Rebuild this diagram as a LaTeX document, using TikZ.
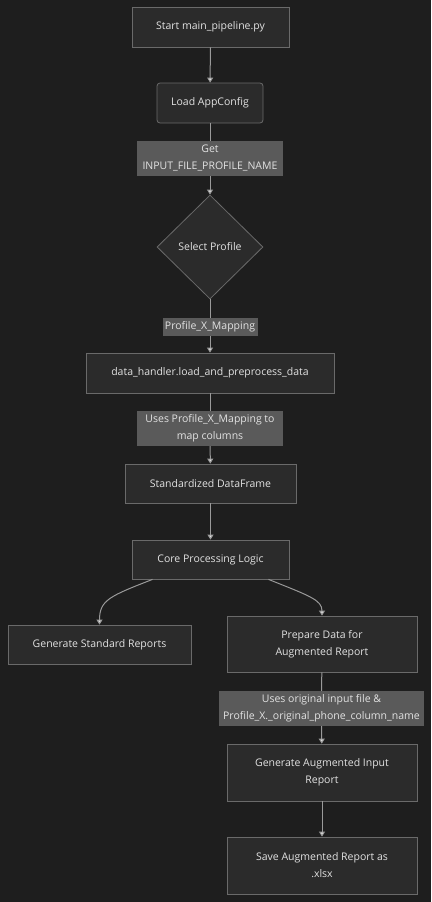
\documentclass[tikz,border=0pt]{standalone}
\usepackage{fontspec}
\setmainfont{Open Sans}
\usetikzlibrary{shapes.geometric, arrows.meta}

\definecolor{bgdark}{HTML}{1E1E1E}
\definecolor{boxfill}{HTML}{2B2B2B}
\definecolor{boxline}{HTML}{6A6A6A}
\definecolor{lblfill}{HTML}{5A5A5A}
\definecolor{textlight}{HTML}{E2E2E2}
\definecolor{flowline}{HTML}{9A9A9A}

\begin{document}
\begin{tikzpicture}[x=1pt, y=1pt,
    procbox/.style={draw=boxline, line width=0.8pt, fill=boxfill, text=textlight,
        font=\fontsize{10.5}{17}\selectfont, align=center, inner sep=0pt},
    edgelbl/.style={fill=lblfill, text=textlight,
        font=\fontsize{10.5}{17}\selectfont, align=center, inner sep=0.5pt},
    flow/.style={draw=flowline, line width=1pt},
    flowarr/.style={flow, -{Triangle[width=6pt,length=5pt,fill=textlight]}}
]
    % Background
    \fill[bgdark] (0,0) rectangle (431,-902);

    % Top of the pipeline
    \node[procbox, minimum width=157pt, minimum height=40pt] (start) at (210.5,-27) {Start main\_pipeline.py};
    \node[procbox, rounded corners=3pt, minimum width=106pt, minimum height=40pt] (appcfg) at (210,-103) {Load AppConfig};
    \node[edgelbl, minimum width=146pt, minimum height=35pt] (getlbl) at (210,-158.5) {Get\\INPUT\_FILE\_PROFILE\_NAME};
    \node[procbox, shape=diamond, minimum width=106pt, minimum height=104pt] (select) at (210,-247) {Select Profile};
    \node[edgelbl, minimum width=95pt, minimum height=18pt] (maplbl) at (210,-327) {Profile\_X\_Mapping};
    \node[procbox, minimum width=248pt, minimum height=40pt] (loaddata) at (210,-373) {data\_handler.load\_and\_preprocess\_data};
    \node[edgelbl, minimum width=146pt, minimum height=35pt] (useslbl) at (210,-428.5) {Uses Profile\_X\_Mapping to\\map columns};
    \node[procbox, minimum width=171pt, minimum height=39pt] (stdframe) at (210.5,-483.5) {Standardized DataFrame};
    \node[procbox, minimum width=157pt, minimum height=39pt] (core) at (210.5,-559.5) {Core Processing Logic};

    % Two branches
    \node[procbox, minimum width=183pt, minimum height=39pt] (genstd) at (99.5,-644.5) {Generate Standard Reports};
    \node[procbox, minimum width=190pt, minimum height=56pt] (prepare) at (322,-644) {Prepare Data for\\Augmented Report};
    \node[edgelbl, minimum width=205pt, minimum height=35pt] (origlbl) at (321.5,-708.5) {Uses original input file \&\\Profile\_X.\_original\_phone\_column\_name};
    \node[procbox, minimum width=190pt, minimum height=57pt] (genaug) at (322,-772.5) {Generate Augmented Input\\Report};
    \node[procbox, minimum width=190pt, minimum height=57pt] (save) at (322,-865.5) {Save Augmented Report as\\.xlsx};

    % Connectors
    \draw[flowarr] (start) -- (appcfg);
    \draw[flow] (appcfg) -- (getlbl);
    \draw[flowarr] (getlbl) -- (select);
    \draw[flow] (select) -- (maplbl);
    \draw[flowarr] (maplbl) -- (loaddata);
    \draw[flow] (loaddata) -- (useslbl);
    \draw[flowarr] (useslbl) -- (stdframe);
    \draw[flowarr] (stdframe) -- (core);
    \draw[flowarr] ([xshift=-58pt]core.south) .. controls (110,-596) and (99.5,-600) .. (genstd.north);
    \draw[flowarr] ([xshift=58pt]core.south) .. controls (310,-596) and (322,-600) .. (prepare.north);
    \draw[flow] (prepare) -- (origlbl);
    \draw[flowarr] (origlbl) -- (genaug);
    \draw[flowarr] (genaug) -- (save);
\end{tikzpicture}
\end{document}
